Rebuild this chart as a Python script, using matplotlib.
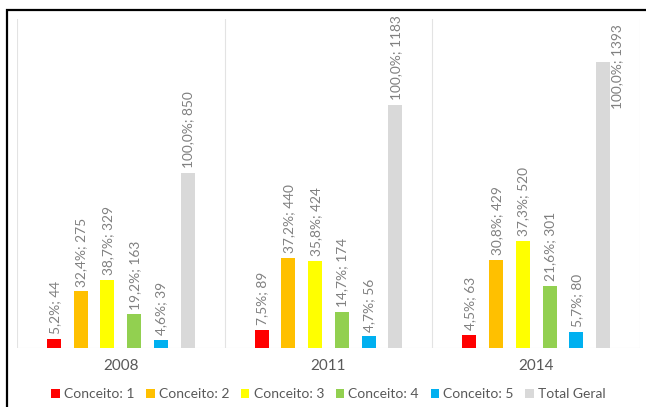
import numpy as np
import matplotlib.pyplot as plt
from matplotlib.patches import Rectangle

plt.rcParams['font.family'] = ['Lato', 'DejaVu Sans']

# data
anos = ['2008', '2011', '2014']
series = ['Conceito: 1', 'Conceito: 2', 'Conceito: 3', 'Conceito: 4', 'Conceito: 5', 'Total Geral']
valores = [
    [44, 89, 63],
    [275, 440, 429],
    [329, 424, 520],
    [163, 174, 301],
    [39, 56, 80],
    [850, 1183, 1393],
]
percentuais = [
    ['5,2%', '7,5%', '4,5%'],
    ['32,4%', '37,2%', '30,8%'],
    ['38,7%', '35,8%', '37,3%'],
    ['19,2%', '14,7%', '21,6%'],
    ['4,6%', '4,7%', '5,7%'],
    ['100,0%', '100,0%', '100,0%'],
]
cores = ['#FF0000', '#FFC000', '#FFFF00', '#92D050', '#00B0F0', '#D9D9D9']

fig = plt.figure(figsize=(6.46, 4.07), dpi=100)
ax = fig.add_axes([17/646, 59/407, 623/646, 329/407])

ymax = 1600
x = np.arange(len(anos))
passo = 0.1285
largura = 0.0674
for i, nome in enumerate(series):
    pos = x + (i - 2.5) * passo
    ax.bar(pos, valores[i], largura, color=cores[i], label=nome, zorder=2)
    for p, v, pc in zip(pos, valores[i], percentuais[i]):
        txt = f'{pc}; {v}'
        if v > 0.85 * ymax:
            # no room above the bar: Excel moves the label beside it
            ax.annotate(txt, (p + largura / 2, ymax), xytext=(1, -4), textcoords='offset points',
                        rotation=90, ha='left', va='top', fontsize=9.9, color='#808080')
        else:
            ax.annotate(txt, (p, v), xytext=(0.5, 3.5), textcoords='offset points',
                        rotation=90, ha='center', va='bottom', fontsize=9.9, color='#808080')

ax.set_xlim(-0.5, 2.5)
ax.set_ylim(0, ymax)
for b in [-0.5, 0.5, 1.5, 2.5]:
    ax.axvline(b, color='#E3E3E3', lw=0.8, zorder=1)
ax.axhline(0, color='#E3E3E3', lw=0.8, zorder=1)
for s in ax.spines.values():
    s.set_visible(False)
ax.set_yticks([])
ax.set_xticks(x)
ax.set_xticklabels(anos, fontsize=11, color='#595959')
ax.tick_params(axis='x', length=0, pad=8)

ax.legend(loc='upper center', bbox_to_anchor=(0.5, -0.105), ncol=6, frameon=False,
          fontsize=10, handlelength=0.6, handleheight=0.6, handletextpad=0.3,
          columnspacing=0.85, labelcolor='#595959', borderaxespad=0)

fig.patches.append(Rectangle((7/646, -0.2), 1.2, 1.2 - 10/407, transform=fig.transFigure,
                             fill=False, edgecolor='black', lw=1.6))

fig.savefig('out.png', dpi=100)
